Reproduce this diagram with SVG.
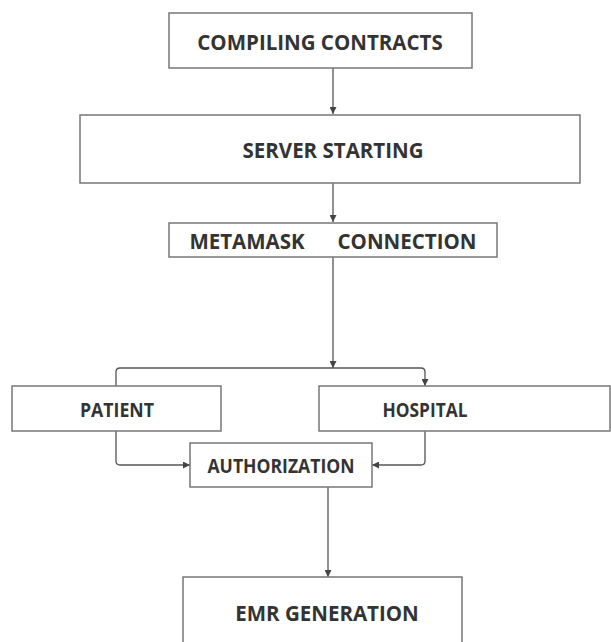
<svg xmlns="http://www.w3.org/2000/svg" width="611" height="642" viewBox="0 0 611 642">
<defs>
<style>
.box{fill:#fff;stroke:#777;stroke-width:1.5}
.lbl{font-family:"Open Sans","Liberation Sans",sans-serif;font-weight:700;font-size:20.5px;fill:#333;text-anchor:middle;dominant-baseline:central}
.sm{font-size:19.5px}
.con{fill:none;stroke:#555;stroke-width:1.3}
</style>
<marker id="ah" viewBox="0 0 10 10" refX="10" refY="5" markerWidth="7" markerHeight="7" orient="auto" markerUnits="userSpaceOnUse">
<path d="M0,0 L10,5 L0,10 z" fill="#444"/>
</marker>
</defs>
<rect width="611" height="642" fill="#fff"/>
<g id="connectors">
<path class="con" d="M333,68 V114" marker-end="url(#ah)"/>
<path class="con" d="M333,183 V222" marker-end="url(#ah)"/>
<path class="con" d="M333,257 V368" marker-end="url(#ah)"/>
<path class="con" d="M116,386 V372 Q116,368 120,368 H421 Q425,368 425,372 V386" marker-end="url(#ah)"/>
<path class="con" d="M116,431 V461 Q116,465 120,465 H190" marker-end="url(#ah)"/>
<path class="con" d="M425,431 V461 Q425,465 421,465 H372" marker-end="url(#ah)"/>
<path class="con" d="M328,487 V577" marker-end="url(#ah)"/>
</g>
<g id="compiling"><rect class="box" x="169" y="13" width="303" height="55"/><text class="lbl" x="320" y="42">COMPILING CONTRACTS</text></g>
<g id="server"><rect class="box" x="80" y="115" width="500" height="68"/><text class="lbl" x="333" y="150">SERVER STARTING</text></g>
<g id="metamask"><rect class="box" x="169" y="223" width="328" height="34"/><text class="lbl" x="247" y="241">METAMASK</text><text class="lbl" x="407" y="241">CONNECTION</text></g>
<g id="patient"><rect class="box" x="12" y="386" width="209" height="45"/><text class="lbl sm" x="117" y="409" textLength="74" lengthAdjust="spacingAndGlyphs">PATIENT</text></g>
<g id="hospital"><rect class="box" x="319" y="386" width="291" height="45"/><text class="lbl sm" x="425" y="409" textLength="85" lengthAdjust="spacingAndGlyphs">HOSPITAL</text></g>
<g id="authorization"><rect class="box" x="190" y="443" width="182" height="44"/><text class="lbl sm" x="281" y="465" textLength="147" lengthAdjust="spacingAndGlyphs">AUTHORIZATION</text></g>
<g id="emr"><rect class="box" x="183" y="577" width="279" height="70"/><text class="lbl" x="327" y="613">EMR GENERATION</text></g>
</svg>
